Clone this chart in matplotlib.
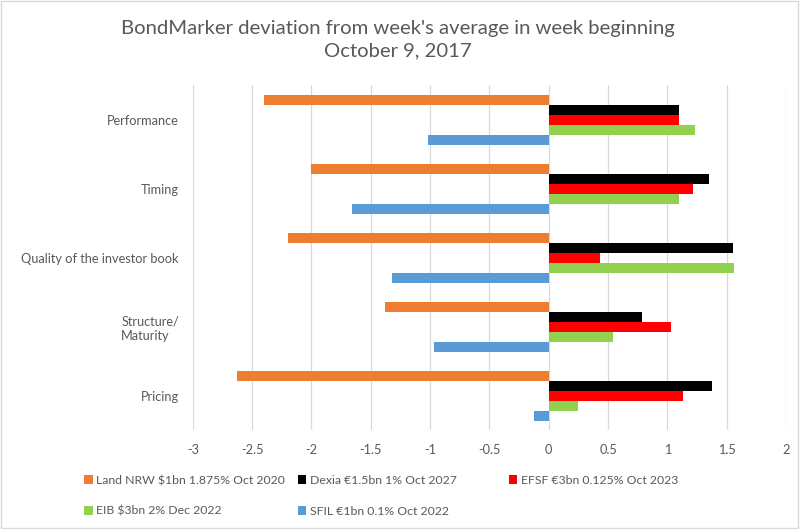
import numpy as np
import matplotlib.pyplot as plt
from matplotlib.patches import Rectangle, Patch

plt.rcParams['font.family'] = ['Lato', 'DejaVu Sans']

# Categories (top to bottom) and series values
categories = ['Performance', 'Timing', 'Quality of the investor book',
              'Structure/\nMaturity', 'Pricing']
series_names = ['Land NRW $1bn 1.875% Oct 2020', 'Dexia €1.5bn 1% Oct 2027',
                'EFSF €3bn 0.125% Oct 2023', 'EIB $3bn 2% Dec 2022',
                'SFIL €1bn 0.1% Oct 2022']
land_nrw = [-2.40, -2.00, -2.20, -1.38, -2.63]
dexia = [1.10, 1.35, 1.55, 0.79, 1.38]
efsf = [1.10, 1.22, 0.43, 1.03, 1.13]
eib = [1.23, 1.10, 1.56, 0.54, 0.25]
sfil = [-1.02, -1.66, -1.32, -0.97, -0.12]
colors = ['#ed7d31', '#000000', '#ff0000', '#92d050', '#5b9bd5']
xticks = [-3, -2.5, -2, -1.5, -1, -0.5, 0, 0.5, 1, 1.5, 2]

all_series = [land_nrw, dexia, efsf, eib, sfil]

fig = plt.figure(figsize=(8, 5.29), dpi=100)
ax = fig.add_axes([0.241, 0.187, 0.7415, 0.652])

y = np.arange(len(categories))
bar_h = 0.145
for i, (vals, c) in enumerate(zip(all_series, colors)):
    offs = (i - 2) * bar_h
    ax.barh(y + offs, vals, height=bar_h, color=c, label=series_names[i], zorder=3)

ax.set_ylim(len(categories) - 0.5, -0.5)
ax.set_xlim(-3, 2)
ax.set_xticks(xticks)
ax.set_xticklabels([f'{t:g}' for t in xticks])
ax.set_yticks(y)
ax.set_yticklabels(categories, ha='right')
ax.tick_params(axis='both', length=0, colors='#595959', labelsize=9.2)
ax.tick_params(axis='y', pad=10)
ax.tick_params(axis='x', pad=10)
for lbl in ax.get_yticklabels():
    lbl.set_multialignment('left')
ax.grid(axis='x', color='#d9d9d9', linewidth=0.9, zorder=0)
for s in ax.spines.values():
    s.set_visible(False)

fig.text(0.4975, 0.925, "BondMarker deviation from week's average in week beginning\nOctober 9, 2017",
         ha='center', va='center', fontsize=14.6, color='#595959', linespacing=1.45)

# legend laid out in a row-major grid of equal-width columns
legend_cols = [(0.105, [0, 3]), (0.372, [1, 4]), (0.636, [2])]
for x0, idx in legend_cols:
    leg = fig.legend([Patch(facecolor=colors[i]) for i in idx],
                     [series_names[i] for i in idx],
                     loc='upper left', bbox_to_anchor=(x0, 0.102),
                     frameon=False, fontsize=8.8, borderaxespad=0, borderpad=0,
                     handlelength=0.7, handleheight=0.7, handletextpad=0.3,
                     labelspacing=1.6, labelcolor='#595959')

fig.patches.append(Rectangle((0.001, 0.001), 0.997, 0.997, transform=fig.transFigure,
                             fill=False, edgecolor='#d9d9d9', linewidth=1))

fig.savefig('out.png', dpi=100, facecolor='white')
